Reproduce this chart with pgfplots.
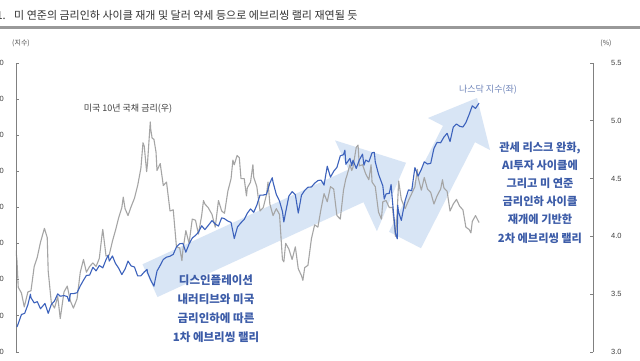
\documentclass[border=0pt]{standalone}
\usepackage{fontspec}
\setmainfont{Liberation Sans}
\newfontfamily\kr{Noto Sans CJK KR}
\usepackage{pgfplots}
\pgfplotsset{compat=1.18}
\definecolor{nasdaq}{RGB}{60,98,188}
\definecolor{yld}{RGB}{165,165,165}
\definecolor{axgray}{RGB}{128,128,128}
\definecolor{arrowfill}{RGB}{216,229,245}
\definecolor{annot}{RGB}{60,92,168}
\definecolor{titlec}{RGB}{50,50,50}
\definecolor{lblblue}{RGB}{110,132,185}

\pgfplotstableread{
x y
0.00 3.88
0.07 3.79
0.16 3.56
0.39 3.51
0.59 3.39
0.85 3.52
1.07 3.53
1.30 3.74
1.52 3.82
1.75 3.95
2.03 4.07
2.23 3.99
2.30 3.70
2.52 3.43
2.75 3.38
2.98 3.48
3.16 3.29
3.43 3.52
3.66 3.57
3.89 3.44
4.10 3.38
4.36 3.46
4.59 3.69
4.82 3.80
5.03 3.69
5.26 3.74
5.49 3.77
5.72 3.74
5.95 3.81
6.16 4.03
6.20 4.06
6.43 3.83
6.66 3.84
6.89 3.96
7.10 4.05
7.33 4.16
7.56 4.25
7.66 4.34
7.79 4.24
8.00 4.18
8.23 4.26
8.46 4.33
8.69 4.44
8.92 4.59
9.07 4.81
9.16 4.78
9.33 4.56
9.39 4.63
9.59 4.99
9.62 4.93
9.72 4.85
9.85 4.84
10.00 4.73
10.07 4.57
10.30 4.63
10.52 4.44
10.75 4.47
11.00 4.22
11.23 4.23
11.46 3.91
11.69 3.90
11.85 3.79
11.92 3.88
12.13 4.05
12.36 3.94
12.59 4.15
12.82 4.14
13.03 4.02
13.26 4.18
13.39 4.31
13.49 4.28
13.72 4.25
14.00 4.19
14.23 4.08
14.46 4.31
14.69 4.22
14.89 4.20
15.13 4.39
15.36 4.50
15.49 4.66
15.59 4.62
15.79 4.70
15.95 4.68
16.07 4.50
16.30 4.50
16.46 4.35
16.52 4.42
16.75 4.47
16.92 4.62
16.98 4.51
17.20 4.43
17.43 4.22
17.66 4.25
17.89 4.36
18.00 4.47
18.13 4.28
18.36 4.18
18.59 4.24
18.82 4.19
19.03 3.80
19.13 3.78
19.26 3.94
19.49 3.89
19.72 3.80
19.95 3.91
20.16 3.72
20.39 3.66
20.49 3.62
20.62 3.73
20.85 3.75
21.10 3.98
21.33 4.10
21.56 4.08
21.79 4.24
22.00 4.37
22.23 4.30
22.46 4.43
22.69 4.41
22.92 4.18
23.16 4.15
23.39 4.40
23.56 4.50
23.62 4.52
23.85 4.62
23.98 4.57
24.07 4.60
24.30 4.77
24.43 4.79
24.52 4.61
24.75 4.62
24.98 4.54
25.20 4.49
25.36 4.62
25.43 4.47
25.66 4.43
25.89 4.21
26.10 4.15
26.20 4.30
26.43 4.31
26.66 4.25
26.89 4.25
27.10 4.00
27.20 4.15
27.33 4.48
27.52 4.32
27.79 4.24
28.03 4.31
28.26 4.37
28.49 4.43
28.66 4.58
28.72 4.51
28.95 4.40
29.16 4.51
29.39 4.41
29.62 4.38
29.85 4.28
30.07 4.35
30.33 4.41
30.46 4.49
30.56 4.42
30.79 4.39
31.00 4.22
31.23 4.28
31.46 4.32
31.69 4.26
31.92 4.23
32.13 4.08
32.36 4.06
32.49 4.03
32.59 4.13
32.82 4.18
33.07 4.12
}\yieldtable

\pgfplotstableread{
x y
0.07 10386
0.16 10569
0.39 11079
0.62 11140
0.85 11622
1.03 12201
1.07 12006
1.30 11718
1.52 11787
1.75 11395
2.07 11689
2.30 11138
2.52 11630
2.75 11823
2.98 12222
3.16 12088
3.43 12123
3.66 12072
3.79 11799
3.89 12227
4.13 12235
4.36 12284
4.59 12658
4.82 12975
5.03 13240
5.26 13259
5.49 13689
5.72 13492
5.95 13788
6.20 13660
6.43 14113
6.59 14358
6.66 14032
6.89 14316
7.10 13909
7.33 13644
7.56 13290
7.79 13590
8.00 14031
8.23 13761
8.46 13708
8.69 13212
8.92 13219
9.16 13431
9.36 13574
9.39 13407
9.62 12984
9.85 12643
10.07 13478
10.30 13798
10.52 14125
10.75 14250
11.00 14305
11.23 14404
11.46 14814
11.69 14993
11.92 15011
12.13 14524
12.36 14973
12.59 15311
12.82 15455
13.03 15629
13.26 15990
13.49 15776
13.72 15997
14.00 16275
14.23 16085
14.46 15973
14.69 16429
14.89 16379
15.13 16249
15.36 16175
15.59 15282
15.82 15928
16.07 16156
16.30 16341
16.52 16686
16.75 16921
16.98 16735
17.20 17133
17.43 17689
17.66 17689
17.89 17733
18.13 18353
18.30 18647
18.36 18398
18.59 17727
18.82 17358
19.03 16776
19.13 16200
19.26 16745
19.49 17632
19.72 17877
19.95 17714
20.16 16691
20.39 17683
20.62 17948
20.85 18120
21.10 18138
21.33 18343
21.56 18490
21.79 18519
22.00 18240
22.23 19287
22.46 18681
22.69 19004
22.92 19218
23.16 19860
23.39 19927
23.49 20173
23.56 19393
23.85 19722
23.98 19311
24.07 19622
24.30 19162
24.52 19630
24.75 19955
24.85 19342
24.98 19627
25.20 19523
25.43 20026
25.59 20056
25.66 19524
25.89 18847
26.20 18196
26.30 17468
26.43 17754
26.66 17784
26.79 18272
26.89 17323
27.10 15588
27.23 15268
27.26 17125
27.33 16724
27.52 16286
27.79 17383
28.03 17977
28.26 17929
28.49 19211
28.72 18737
28.95 19114
29.16 19530
29.39 19407
29.62 19447
29.85 20273
30.07 20601
30.33 20586
30.56 20896
30.79 21108
31.00 20650
31.23 21450
31.46 21623
31.69 21496
31.92 21456
32.13 21700
32.36 22141
32.59 22631
32.82 22484
33.07 22780
}\nasdaqtable

\pgfplotsset{
  base/.style={
    scale only axis, width=577pt, height=289pt,
    at={(16pt,8pt)}, anchor=south west,
    xmin=0, xmax=41.21,
    axis x line=none,
    tick align=inside, major tick length=3pt,
    axis line style={axgray, line width=0.8pt},
    every tick/.style={axgray, line width=0.8pt},
    scaled y ticks=false,
    /pgf/number format/assume math mode=true,
    ticklabel style={font=\fontsize{7.5}{9}\selectfont, text=black!75, inner sep=0pt},
  }
}

\begin{document}
\begin{tikzpicture}[x=1pt,y=1pt]
\useasboundingbox (0,0) rectangle (640,360);
\clip (0,0) rectangle (640,360);
\fill[white] (0,0) rectangle (640,360);

% title
\node[anchor=base east, inner sep=0, font=\kr\fontsize{11}{13}\selectfont, text=titlec] at (6,341) {1.};
\node[anchor=base west, inner sep=0, font=\kr\fontsize{11}{13}\selectfont, text=titlec] at (14,341) {미 연준의 금리인하 사이클 재개 및 달러 약세 등으로 에브리씽 랠리 재연될 듯};
\fill[black!40] (0,331.5) rectangle (640,334.5);

% unit labels
\node[font=\kr\fontsize{7}{8}\selectfont, text=black!70] at (21,317) {(지수)};
\node[font=\kr\fontsize{7}{8}\selectfont, text=black!70] at (606,317) {(\%)};

% arrows
\fill[arrowfill] (157.5,63.0) -- (363.5,157.8) -- (376.9,128.8) -- (406,197.2) -- (335.1,219.6) -- (348.5,190.5) -- (142.5,95.7) -- cycle;
\fill[arrowfill] (421,111.8) -- (475,217.8) -- (490,210) -- (477,262) -- (428,242) -- (443,234.2) -- (389,128.2) -- cycle;

% right axis: 10y yield
\begin{axis}[base,
  ymin=3, ymax=5.5, ytick={3,3.5,4,4.5,5,5.5},
  axis y line*=right,
  yticklabel style={anchor=west, xshift=18pt,
    /pgf/number format/fixed, /pgf/number format/fixed zerofill,
    /pgf/number format/precision=1},
]
\addplot[yld, line width=1.1pt, line join=round] table[x=x,y=y] {\yieldtable};
\end{axis}

% left axis: Nasdaq
\begin{axis}[base,
  ymin=9000, ymax=25000, ytick={9000,11000,...,25000},
  axis y line*=left,
  yticklabel style={anchor=east, xshift=-12pt,
    /pgf/number format/1000 sep={,}},
]
\addplot[nasdaq, line width=1.1pt, line join=round] table[x=x,y=y] {\nasdaqtable};
\end{axis}

% series labels
\node[font=\kr\fontsize{9}{10}\selectfont, text=black!75] at (128,251) {미국 10년 국채 금리(우)};
\node[font=\kr\fontsize{9}{10}\selectfont, text=lblblue] at (488,270) {나스닥 지수(좌)};

% annotations
\node[align=center, font=\kr\bfseries\fontsize{11.5}{19}\selectfont, text=annot] at (216,51)
  {디스인플레이션\\내러티브와 미국\\금리인하에 따른\\1차 에브리씽 랠리};
\node[align=center, font=\kr\bfseries\fontsize{11.2}{18.2}\selectfont, text=annot] at (540,167.5)
  {관세 리스크 완화,\\AI투자 사이클에\\그리고 미 연준\\금리인하 사이클\\재개에 기반한\\2차 에브리씽 랠리};
\end{tikzpicture}
\end{document}
